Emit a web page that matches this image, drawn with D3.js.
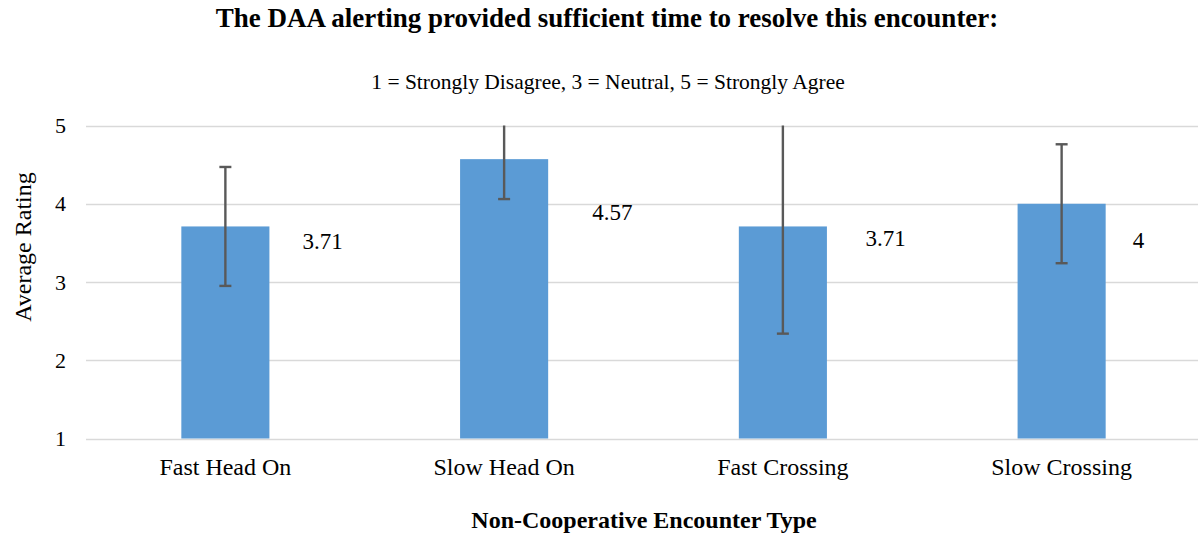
<!DOCTYPE html>
<html>
<head>
<meta charset="utf-8">
<script src="https://cdn.jsdelivr.net/npm/d3@7"></script>
<style>
  html, body { margin: 0; padding: 0; background: #fff; }
  svg { display: block; }
  text { font-family: "Liberation Serif", "Times New Roman", serif; fill: #000; }
</style>
</head>
<body>
<svg id="chart" width="1198" height="534"></svg>
<script>
// ---- data ----
const categories = ["Fast Head On", "Slow Head On", "Fast Crossing", "Slow Crossing"];
const ratings = [3.71, 4.57, 3.71, 4];
const errors = [0.76, 0.51, 1.37, 0.76];
const valueLabels = ["3.71", "4.57", "3.71", "4"];
const yTicks = [1, 2, 3, 4, 5];
const titleText = "The DAA alerting provided sufficient time to resolve this encounter:";
const subtitleText = "1 = Strongly Disagree, 3 = Neutral, 5 = Strongly Agree";
const yAxisTitle = "Average Rating";
const xAxisTitle = "Non-Cooperative Encounter Type";

// ---- layout ----
const W = 1198, H = 534;
const plot = { left: 86, right: 1201, top: 125.5, bottom: 438.5 };
const labelNudge = [ {dx: 33, dy: 23}, {dx: 44, dy: 61}, {dx: 38.5, dy: 20}, {dx: 27, dy: 44.5} ];

const svg = d3.select("#chart");

const x = d3.scaleBand()
  .domain(categories)
  .range([plot.left, plot.right])
  .paddingInner(0.684)
  .paddingOuter(0.342);

const y = d3.scaleLinear().domain([1, 5]).range([plot.bottom, plot.top]);

// gridlines
svg.append("g")
  .selectAll("line")
  .data(yTicks)
  .join("line")
  .attr("x1", plot.left).attr("x2", plot.right)
  .attr("y1", d => Math.round(y(d)) + 0.5).attr("y2", d => Math.round(y(d)) + 0.5)
  .attr("stroke", "#d9d9d9").attr("stroke-width", 1.3);

// y tick labels
svg.append("g")
  .selectAll("text")
  .data(yTicks)
  .join("text")
  .attr("x", 66).attr("y", d => y(d))
  .attr("dy", "0.35em")
  .attr("text-anchor", "end")
  .style("font-size", "22px")
  .text(d => d);

// bars
const data = categories.map((c, i) => ({ c, v: ratings[i], e: errors[i], lab: valueLabels[i], n: labelNudge[i] }));

svg.append("g")
  .selectAll("rect")
  .data(data)
  .join("rect")
  .attr("x", d => x(d.c)).attr("width", x.bandwidth())
  .attr("y", d => y(d.v)).attr("height", d => y(1) - y(d.v))
  .attr("fill", "#5b9bd5");

// error bars (clipped to the plot range)
const clamp = v => Math.max(1, Math.min(5, v));
const eb = svg.append("g").attr("stroke", "#595959").attr("stroke-width", 2.4);
data.forEach(d => {
  const cx = x(d.c) + x.bandwidth() / 2;
  const hi = d.v + d.e, lo = d.v - d.e;
  eb.append("line").attr("x1", cx).attr("x2", cx)
    .attr("y1", y(clamp(hi))).attr("y2", y(clamp(lo)));
  if (hi <= 5) eb.append("line").attr("x1", cx - 6).attr("x2", cx + 6).attr("y1", y(hi)).attr("y2", y(hi));
  if (lo >= 1) eb.append("line").attr("x1", cx - 6).attr("x2", cx + 6).attr("y1", y(lo)).attr("y2", y(lo));
});

// value labels
svg.append("g")
  .selectAll("text")
  .data(data)
  .join("text")
  .attr("x", d => x(d.c) + x.bandwidth() + d.n.dx)
  .attr("y", d => y(d.v) + d.n.dy)
  .style("font-size", "23px")
  .text(d => d.lab);

// x category labels
svg.append("g")
  .selectAll("text")
  .data(categories)
  .join("text")
  .attr("x", d => x(d) + x.bandwidth() / 2)
  .attr("y", 475)
  .attr("text-anchor", "middle")
  .style("font-size", "24px")
  .text(d => d);

// titles
svg.append("text")
  .attr("x", 607).attr("y", 27)
  .attr("text-anchor", "middle")
  .style("font-size", "27px").style("font-weight", "bold")
  .text(titleText);

svg.append("text")
  .attr("x", 608).attr("y", 89)
  .attr("text-anchor", "middle")
  .style("font-size", "21.5px")
  .text(subtitleText);

svg.append("text")
  .attr("x", 644).attr("y", 528)
  .attr("text-anchor", "middle")
  .style("font-size", "24px").style("font-weight", "bold")
  .text(xAxisTitle);

svg.append("text")
  .attr("transform", "translate(31,247) rotate(-90)")
  .attr("text-anchor", "middle")
  .style("font-size", "24px")
  .text(yAxisTitle);
</script>
</body>
</html>
